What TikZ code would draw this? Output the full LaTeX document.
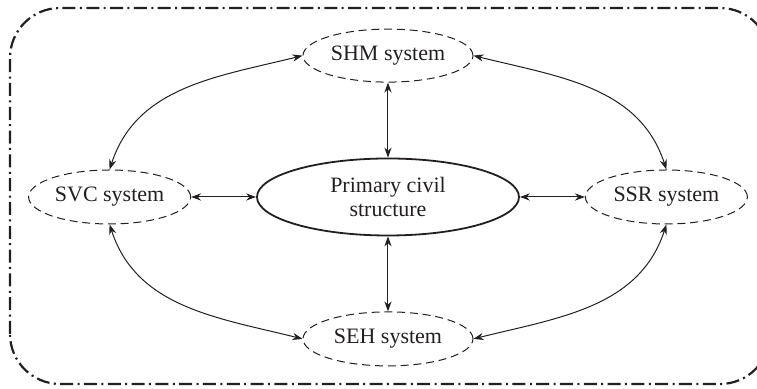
\documentclass[tikz,border=0pt]{standalone}
\usepackage{fontspec}
\setmainfont{Liberation Serif}
\usepackage{tikz}
\usetikzlibrary{arrows.meta,positioning,shapes.geometric}
\definecolor{ink}{HTML}{231F20}
\tikzset{
  sys/.style={draw=ink, ellipse, dash pattern=on 4pt off 2.4pt, line width=.5pt, inner sep=0pt, minimum width=85pt, minimum height=27pt, text=ink, font=\fontsize{11}{12}\selectfont},
  core/.style={sys, solid, line width=.9pt, align=center, minimum width=131pt, minimum height=38.5pt},
  ar/.style={{Stealth[length=5pt,width=3.6pt]}-{Stealth[length=5pt,width=3.6pt]}, line width=.5pt, draw=ink},
  frm/.style={draw=ink, line width=1.1pt, rounded corners=25pt, dash pattern=on 6.5pt off 2.2pt on 1pt off 2.2pt},
}
\begin{document}
\begin{tikzpicture}[x=1pt, y=1pt]
    \useasboundingbox (-194,-96) rectangle (184.5,98.5);
    \draw[frm] (-189,-93.5) rectangle (191,94.5);

    \node[core] (civil) at (0,0) {Primary civil\\structure};
    \node[sys, above=37.5pt of civil, minimum height=26.5pt] (shm) {SHM system};
    \node[sys, below=37.5pt of civil] (seh) {SEH system};
    \node[sys, left=32.5pt of civil, minimum width=81pt] (svc) {SVC system};
    \node[sys, right=32.5pt of civil, minimum width=81pt] (ssr) {SSR system};

    \foreach \a/\b in {shm/civil, civil/seh, svc/civil, civil/ssr}{\draw[ar] (\a)--(\b);}
    \foreach \a/\b/\o/\i in {shm.west/svc.north/194/72, svc.south/seh.west/-72/166, shm.east/ssr.north/-14/108, ssr.south/seh.east/-108/14}{\draw[ar] (\a) to[out=\o, in=\i] (\b);}
  \end{tikzpicture}
\end{document}
